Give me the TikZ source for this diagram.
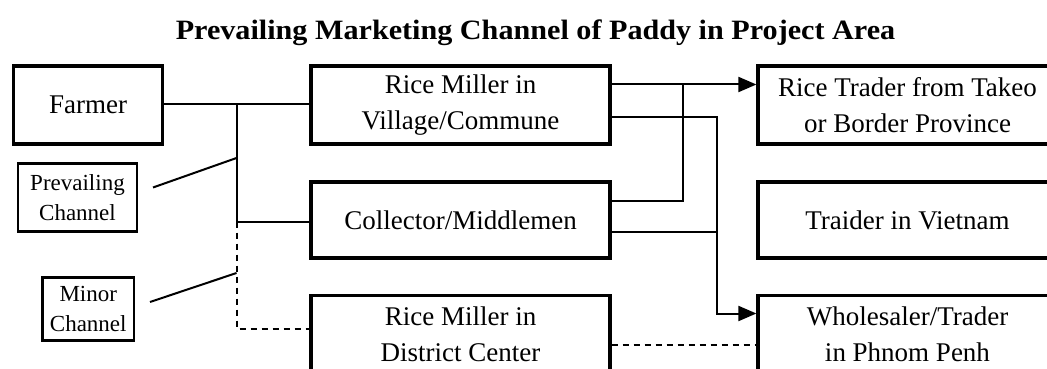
\documentclass[tikz,border=0pt]{standalone}
\usepackage{fontspec}
\setmainfont{Liberation Serif}
\usepackage{graphicx}
\usetikzlibrary{arrows.meta}
\begin{document}
\begin{tikzpicture}[x=1pt,y=-1pt,
  bigbox/.style={draw, rectangle, line width=3.2pt, inner sep=0pt, align=center,
    minimum width=299pt, minimum height=78pt, font=\fontsize{27}{36}\selectfont},
  smallbox/.style={draw, rectangle, line width=2.5pt, inner sep=0pt, align=center,
    font=\fontsize{23}{30}\selectfont},
  conn/.style={line width=2pt},
  minorconn/.style={line width=2pt, dash pattern=on 6pt off 5pt},
  tip/.style={-{Triangle[length=18pt,width=15pt]}}]

% page frame; boxes on the right and bottom run past it
\path[use as bounding box] (0,0) rectangle (1047,369);
\clip (0,0) rectangle (1047,369);

% title
\node[font=\fontsize{28}{34}\selectfont\bfseries, anchor=base, inner sep=0pt] (title)
  at (535.5,40) {\scalebox{1.077}[1]{Prevailing Marketing Channel of Paddy in Project Area}};

% actors
\node[bigbox, minimum width=149pt] (farmer) at (88,105) {Farmer};
\node[bigbox] (village)   at (460.5,105)   {Rice Miller in\\Village/Commune};
\node[bigbox, minimum height=76pt] (collector) at (460.5,220) {Collector/Middlemen};
\node[bigbox] (district)  at (460.5,334.5) {Rice Miller in\\District Center};
\node[bigbox] (takeo)     at (907.5,105)   {Rice Trader from Takeo\\or Border Province};
\node[bigbox, minimum height=76pt] (vietnam) at (907.5,220) {Traider in Vietnam};
\node[bigbox] (wholesaler) at (907.5,334.5) {Wholesaler/Trader\\in Phnom Penh};

% legend
\node[smallbox, minimum width=119pt, minimum height=68pt] (prevail) at (77.5,197.5) {Prevailing\\Channel};
\node[smallbox, minimum width=91.5pt, minimum height=63pt] (minor) at (88.25,309) {Minor\\Channel};

% junction points
\coordinate (j1) at (236.5,103.5);
\coordinate (j2) at (236.5,221.5);
\coordinate (j3) at (236.5,328.5);
\coordinate (p1) at (236.5,158);
\coordinate (p1s) at (153,187.5);
\coordinate (m1) at (236.5,273);
\coordinate (m1s) at (150,302);
\coordinate (r1) at (683,84.5);
\coordinate (r2) at (717,116.5);
\coordinate (c1) at (683,200.5);
\coordinate (c2) at (717,231.5);
\coordinate (w1) at (717,313.5);
\coordinate (d1) at (717,345);

% farmer side
\draw[conn] (farmer.east |- j1) -- (village.west |- j1);
\draw[conn] (j1) -- (j2) -- (collector.west |- j2);
\draw[minorconn] (j2) -- (j3) -- (district.west |- j3);
\draw[conn] (p1s) -- (p1);
\draw[conn] (m1s) -- (m1);

% trader side
\draw[conn, tip] (village.east |- r1) -- (takeo.west |- r1);
\draw[conn, tip] (village.east |- r2) -- (r2) |- (wholesaler.west |- w1);
\draw[conn] (collector.east |- c1) -| (r1);
\draw[conn] (collector.east |- c2) -- (c2);
\draw[minorconn] (district.east |- d1) -- (wholesaler.west |- d1);
\end{tikzpicture}
\end{document}
